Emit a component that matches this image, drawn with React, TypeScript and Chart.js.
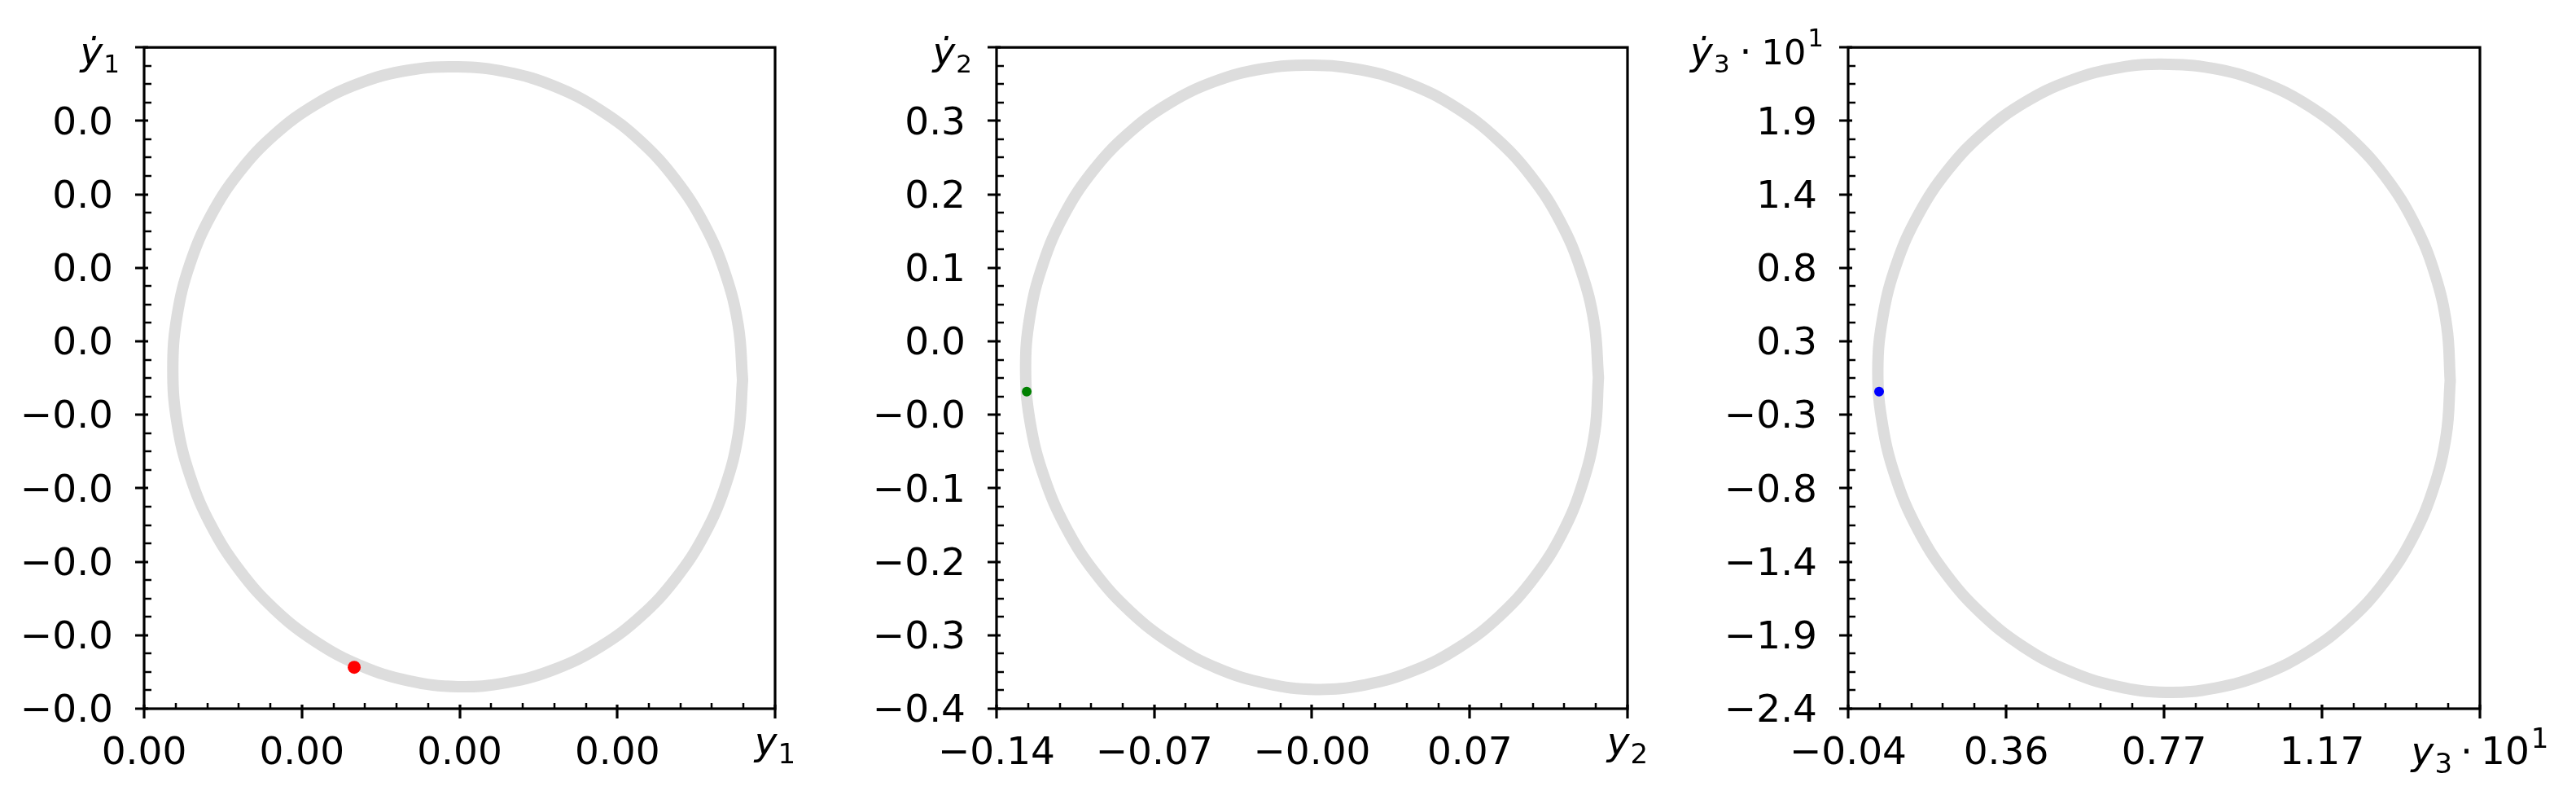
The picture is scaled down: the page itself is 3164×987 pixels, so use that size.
import React, { useEffect, useRef } from "react";
import { Chart, registerables } from "chart.js";

Chart.register(...registerables);

// ---------------- DATA ----------------
// Panel 1: phase portrait (y1, y1')
const p1CurveX = [0.003794, 0.003767, 0.003685, 0.003552, 0.003371, 0.003149, 0.002891, 0.002606, 0.002302, 0.001988, 0.001674, 0.00137, 0.001085, 0.000827, 0.000605, 0.000424, 0.000291, 0.000209, 0.000182, 0.000209, 0.000291, 0.000424, 0.000605, 0.000827, 0.001085, 0.00137, 0.001674, 0.001988, 0.002302, 0.002606, 0.002891, 0.003149, 0.003371, 0.003552, 0.003685, 0.003767, 0.003794];
const p1CurveY = [-0.00027, 0.00706, 0.01419, 0.02088, 0.02695, 0.0322, 0.03648, 0.03967, 0.04164, 0.04236, 0.04189, 0.04016, 0.03721, 0.03313, 0.02806, 0.02214, 0.01555, 0.00848, 0.00118, -0.00616, -0.01331, -0.02004, -0.02616, -0.03149, -0.03585, -0.03912, -0.04119, -0.042, -0.04144, -0.03961, -0.03658, -0.03242, -0.02727, -0.0213, -0.01467, -0.00758, -0.00027];
const p1DotX = [0.001332];
const p1DotY = [-0.03937];
const p1XTicks = [0, 0.001, 0.002, 0.003, 0.004];
const p1XTickLabels = ["0.00", "0.00", "0.00", "0.00"];
const p1YTicks = [-0.045, -0.035, -0.025, -0.015, -0.005, 0.005, 0.015, 0.025, 0.035, 0.045];
const p1YTickLabels = ["\u22120.0", "\u22120.0", "\u22120.0", "\u22120.0", "\u22120.0", "0.0", "0.0", "0.0", "0.0"];

// Panel 2: phase portrait (y2, y2')
const p2CurveX = [0.1261, 0.1242, 0.1184, 0.1091, 0.0964, 0.0807, 0.0626, 0.0425, 0.0211, -0.001, -0.0231, -0.0445, -0.0646, -0.0827, -0.0984, -0.1111, -0.1204, -0.1262, -0.1281, -0.1259, -0.1198, -0.1102, -0.0973, -0.0814, -0.0631, -0.0429, -0.0214, 0.0007, 0.0228, 0.0441, 0.0641, 0.082, 0.0975, 0.11, 0.119, 0.1245, 0.1261];
const p2CurveY = [0.0008, 0.0631, 0.1235, 0.1802, 0.2314, 0.2756, 0.3114, 0.3379, 0.354, 0.3595, 0.3554, 0.3406, 0.3154, 0.2807, 0.2375, 0.1871, 0.131, 0.071, 0.0088, -0.0536, -0.1144, -0.1717, -0.2237, -0.2689, -0.3058, -0.3336, -0.351, -0.3579, -0.3524, -0.3363, -0.3098, -0.274, -0.2298, -0.1786, -0.1219, -0.0615, 0.0008];
const p2DotX = [-0.1276];
const p2DotY = [-0.0156];
const p2XTicks = [-0.141, -0.071, -0.001, 0.069, 0.139];
const p2XTickLabels = ["\u22120.14", "\u22120.07", "\u22120.00", "0.07"];
const p2YTicks = [-0.38, -0.2956, -0.2111, -0.1267, -0.0422, 0.0422, 0.1267, 0.2111, 0.2956, 0.38];
const p2YTickLabels = ["\u22120.4", "\u22120.3", "\u22120.2", "\u22120.1", "\u22120.0", "0.0", "0.1", "0.2", "0.3"];

// Panel 3: phase portrait (y3, y3') scaled by 10^1
const p3CurveX = [1.4972, 1.4882, 1.4572, 1.4053, 1.3339, 1.2454, 1.1423, 1.0277, 0.9051, 0.7785, 0.6515, 0.5279, 0.4115, 0.306, 0.2145, 0.1397, 0.084, 0.049, 0.0358, 0.0478, 0.0816, 0.1362, 0.21, 0.3006, 0.4054, 0.5213, 0.6446, 0.7715, 0.8982, 1.0211, 1.1362, 1.24, 1.3294, 1.4018, 1.4548, 1.487, 1.4972];
const p3CurveY = [-0.018, 0.3845, 0.7756, 1.1429, 1.4754, 1.7629, 1.997, 2.1703, 2.2775, 2.3155, 2.2907, 2.1963, 2.035, 1.8118, 1.5337, 1.2088, 0.847, 0.4594, 0.058, -0.3452, -0.7382, -1.1088, -1.4457, -1.7386, -1.979, -2.1593, -2.2739, -2.3195, -2.2871, -2.1853, -2.017, -1.7875, -1.504, -1.1747, -0.8096, -0.4201, -0.018];
const p3DotX = [0.039];
const p3DotY = [-0.1];
const p3XTicks = [-0.04, 0.3633, 0.7665, 1.1698, 1.573];
const p3XTickLabels = ["\u22120.04", "0.36", "0.77", "1.17"];
const p3YTicks = [-2.44, -1.8978, -1.3556, -0.8133, -0.2711, 0.2711, 0.8133, 1.3556, 1.8978, 2.44];
const p3YTickLabels = ["\u22122.4", "\u22121.9", "\u22121.4", "\u22120.8", "\u22120.3", "0.3", "0.8", "1.4", "1.9"];

type SegKind = "var" | "sub" | "dot" | "num" | "sup";
type Seg = { text: string; kind: SegKind };

const p1XAxisLabel: Seg[] = [{ text: "y", kind: "var" }, { text: "1", kind: "sub" }];
const p1YAxisLabel: Seg[] = [{ text: "\u1E8F", kind: "var" }, { text: "1", kind: "sub" }];
const p2XAxisLabel: Seg[] = [{ text: "y", kind: "var" }, { text: "2", kind: "sub" }];
const p2YAxisLabel: Seg[] = [{ text: "\u1E8F", kind: "var" }, { text: "2", kind: "sub" }];
const p3XAxisLabel: Seg[] = [
  { text: "y", kind: "var" }, { text: "3", kind: "sub" }, { text: "\u00B7", kind: "dot" },
  { text: "10", kind: "num" }, { text: "1", kind: "sup" },
];
const p3YAxisLabel: Seg[] = [
  { text: "\u1E8F", kind: "var" }, { text: "3", kind: "sub" }, { text: "\u00B7", kind: "dot" },
  { text: "10", kind: "num" }, { text: "1", kind: "sup" },
];

// ---------------- STYLE / LAYOUT ----------------
const FIG_W = 3164;
const FIG_H = 987;
const PLOT_TOP = 57;
const PLOT_BOTTOM = 870;
const FONT = '"DejaVu Sans"';
const TEXT = "#000000";
const CURVE_COLOR = "#dddddd";

interface MathStyle {
  main: number; sub: number; subDy: number; num: number; sup: number; supDy: number; dotGap: number;
}
const xLabelStyle: MathStyle = { main: 47, sub: 34, subDy: 11, num: 47, sup: 34, supDy: 20, dotGap: 10 };
const yLabelStyle: MathStyle = { main: 47, sub: 31, subDy: 10, num: 43, sup: 31, supDy: 22, dotGap: 12 };

interface PanelSpec {
  curveX: number[]; curveY: number[]; dotX: number[]; dotY: number[];
  dotColor: string; dotRadius: number;
  xTicks: number[]; xTickLabels: string[]; yTicks: number[]; yTickLabels: string[];
  xAxisLabel: Seg[]; yAxisLabel: Seg[];
  canvasLeft: number; canvasWidth: number; plotLeft: number; plotRight: number;
  xLabelBaselineOffset: number;
}

const panels: PanelSpec[] = [
  {
    curveX: p1CurveX, curveY: p1CurveY, dotX: p1DotX, dotY: p1DotY, dotColor: "#ff0000", dotRadius: 8,
    xTicks: p1XTicks, xTickLabels: p1XTickLabels, yTicks: p1YTicks, yTickLabels: p1YTickLabels,
    xAxisLabel: p1XAxisLabel, yAxisLabel: p1YAxisLabel,
    canvasLeft: 0, canvasWidth: 1020, plotLeft: 177, plotRight: 952, xLabelBaselineOffset: 56,
  },
  {
    curveX: p2CurveX, curveY: p2CurveY, dotX: p2DotX, dotY: p2DotY, dotColor: "#008000", dotRadius: 6,
    xTicks: p2XTicks, xTickLabels: p2XTickLabels, yTicks: p2YTicks, yTickLabels: p2YTickLabels,
    xAxisLabel: p2XAxisLabel, yAxisLabel: p2YAxisLabel,
    canvasLeft: 1020, canvasWidth: 1020, plotLeft: 1224, plotRight: 1999, xLabelBaselineOffset: 56,
  },
  {
    curveX: p3CurveX, curveY: p3CurveY, dotX: p3DotX, dotY: p3DotY, dotColor: "#0000ff", dotRadius: 6,
    xTicks: p3XTicks, xTickLabels: p3XTickLabels, yTicks: p3YTicks, yTickLabels: p3YTickLabels,
    xAxisLabel: p3XAxisLabel, yAxisLabel: p3YAxisLabel,
    canvasLeft: 2040, canvasWidth: 1124, plotLeft: 2270, plotRight: 3046, xLabelBaselineOffset: 68,
  },
];

function drawMath(
  ctx: CanvasRenderingContext2D, segs: Seg[], anchorX: number, baseline: number,
  align: "right" | "center", st: MathStyle
) {
  const parts = segs.map((s) => {
    let font = `${st.main}px ${FONT}`;
    let dy = 0, gapL = 0, gapR = 0;
    if (s.kind === "var") font = `italic ${st.main}px ${FONT}`;
    else if (s.kind === "sub") { font = `${st.sub}px ${FONT}`; dy = st.subDy; gapL = 1; }
    else if (s.kind === "dot") { font = `${st.main}px ${FONT}`; gapL = st.dotGap; gapR = st.dotGap; }
    else if (s.kind === "num") font = `${st.num}px ${FONT}`;
    else if (s.kind === "sup") { font = `${st.sup}px ${FONT}`; dy = -st.supDy; gapL = 2; }
    ctx.font = font;
    const w = ctx.measureText(s.text).width;
    return { text: s.text, font, dy, gapL, gapR, w };
  });
  const total = parts.reduce((a, p) => a + p.gapL + p.w + p.gapR, 0);
  let x = align === "right" ? anchorX - total : anchorX - total / 2;
  ctx.save();
  ctx.textAlign = "left";
  ctx.textBaseline = "alphabetic";
  ctx.fillStyle = TEXT;
  for (const p of parts) {
    x += p.gapL;
    ctx.font = p.font;
    ctx.fillText(p.text, x, baseline + p.dy);
    x += p.w + p.gapR;
  }
  ctx.restore();
}

function makeFramePlugin(spec: PanelSpec) {
  return {
    id: "mplFrame",
    afterDraw(chart: any) {
      const ctx: CanvasRenderingContext2D = chart.ctx;
      const { left, right, top, bottom } = chart.chartArea;
      const xs = chart.scales.x;
      const ys = chart.scales.y;
      ctx.save();
      ctx.strokeStyle = TEXT;
      ctx.lineCap = "butt";
      // minor ticks
      ctx.lineWidth = 2.5;
      ctx.beginPath();
      for (let i = 0; i < spec.xTicks.length - 1; i++) {
        const a = spec.xTicks[i], b = spec.xTicks[i + 1];
        for (let k = 1; k < 5; k++) {
          const px = Math.round(xs.getPixelForValue(a + ((b - a) * k) / 5));
          ctx.moveTo(px, bottom);
          ctx.lineTo(px, bottom - 7);
        }
      }
      for (let i = 0; i < spec.yTicks.length - 1; i++) {
        const a = spec.yTicks[i], b = spec.yTicks[i + 1];
        for (let k = 1; k < 4; k++) {
          const py = Math.round(ys.getPixelForValue(a + ((b - a) * k) / 4));
          ctx.moveTo(left, py);
          ctx.lineTo(left + 9, py);
        }
      }
      ctx.stroke();
      // major ticks
      ctx.lineWidth = 3.2;
      ctx.beginPath();
      for (const v of spec.xTicks) {
        const px = Math.round(xs.getPixelForValue(v));
        ctx.moveTo(px, bottom - 5);
        ctx.lineTo(px, bottom + 12);
      }
      for (const v of spec.yTicks) {
        const py = Math.round(ys.getPixelForValue(v));
        ctx.moveTo(left - 11, py);
        ctx.lineTo(left + 5, py);
      }
      ctx.stroke();
      // frame
      ctx.lineWidth = 3.2;
      ctx.strokeRect(left, top, right - left, bottom - top);
      ctx.restore();
      // axis labels at the end ticks
      const xEnd = xs.getPixelForValue(spec.xTicks[spec.xTicks.length - 1]);
      drawMath(ctx, spec.xAxisLabel, xEnd, bottom + spec.xLabelBaselineOffset, "center", xLabelStyle);
      const yEnd = ys.getPixelForValue(spec.yTicks[spec.yTicks.length - 1]);
      drawMath(ctx, spec.yAxisLabel, left - 30, yEnd + 21, "right", yLabelStyle);
    },
  };
}

function Panel({ spec }: { spec: PanelSpec }) {
  const ref = useRef<HTMLCanvasElement>(null);
  useEffect(() => {
    const canvas = ref.current;
    if (!canvas) return;
    const curve = spec.curveX.map((x, i) => ({ x, y: spec.curveY[i] }));
    const dots = spec.dotX.map((x, i) => ({ x, y: spec.dotY[i] }));
    const yWidth = spec.plotLeft - spec.canvasLeft;
    const rightPad = spec.canvasLeft + spec.canvasWidth - spec.plotRight;
    const tickFont = { family: "DejaVu Sans", size: 47 };
    const chart = new Chart(canvas, {
      type: "scatter",
      data: {
        datasets: [
          {
            data: dots,
            showLine: false,
            pointRadius: spec.dotRadius,
            pointBackgroundColor: spec.dotColor,
            pointBorderWidth: 0,
            pointBorderColor: spec.dotColor,
            order: 0,
          },
          {
            data: curve,
            showLine: true,
            pointRadius: 0,
            borderColor: CURVE_COLOR,
            borderWidth: 14,
            tension: 0.4,
            borderJoinStyle: "round",
            borderCapStyle: "round",
            fill: false,
            order: 1,
          },
        ],
      },
      options: {
        responsive: false,
        animation: false,
        devicePixelRatio: 1,
        events: [],
        layout: { padding: { top: PLOT_TOP, right: rightPad, left: 0, bottom: 0 } },
        plugins: { legend: { display: false }, tooltip: { enabled: false } },
        scales: {
          x: {
            type: "linear",
            position: "bottom",
            min: spec.xTicks[0],
            max: spec.xTicks[spec.xTicks.length - 1],
            grid: { display: false },
            border: { display: false },
            ticks: {
              autoSkip: false,
              maxRotation: 0,
              minRotation: 0,
              padding: 20,
              color: TEXT,
              font: tickFont,
              callback: (_v: any, i: number) => spec.xTickLabels[i] ?? "",
            },
            afterBuildTicks: (s: any) => {
              s.ticks = spec.xTicks.map((v) => ({ value: v }));
            },
            afterFit: (s: any) => {
              s.height = FIG_H - PLOT_BOTTOM;
            },
          },
          y: {
            type: "linear",
            position: "left",
            min: spec.yTicks[0],
            max: spec.yTicks[spec.yTicks.length - 1],
            grid: { display: false },
            border: { display: false },
            ticks: {
              autoSkip: false,
              padding: 30,
              labelOffset: 4,
              color: TEXT,
              font: tickFont,
              callback: (_v: any, i: number) => spec.yTickLabels[i] ?? "",
            },
            afterBuildTicks: (s: any) => {
              s.ticks = spec.yTicks.map((v) => ({ value: v }));
            },
            afterFit: (s: any) => {
              s.width = yWidth;
            },
          },
        },
      } as any,
      plugins: [makeFramePlugin(spec)],
    });
    return () => chart.destroy();
  }, [spec]);
  return (
    <canvas
      ref={ref}
      width={spec.canvasWidth}
      height={FIG_H}
      style={{ position: "absolute", left: spec.canvasLeft, top: 0, width: spec.canvasWidth, height: FIG_H }}
    />
  );
}

export default function App() {
  useEffect(() => {
    document.body.style.margin = "0";
    document.body.style.overflow = "hidden";
  }, []);
  return (
    <div style={{ position: "absolute", left: 0, top: 0, width: FIG_W, height: FIG_H, background: "#ffffff", overflow: "hidden" }}>
      {panels.map((p, i) => (
        <Panel key={i} spec={p} />
      ))}
    </div>
  );
}
